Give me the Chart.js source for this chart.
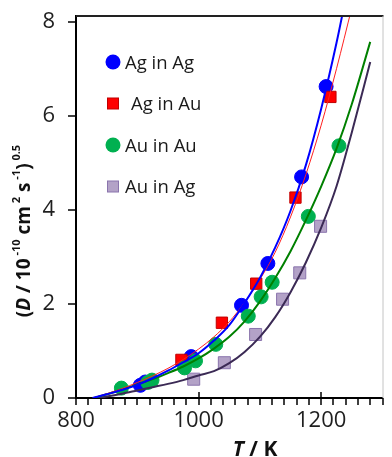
<!DOCTYPE html>
<html>
<head>
<meta charset="utf-8">
<script src="https://cdn.jsdelivr.net/npm/chart.js@4.4.1/dist/chart.umd.min.js"></script>
<style>
  html, body { margin: 0; padding: 0; background: #fff; }
  #wrap { width: 392px; height: 457px; }
</style>
</head>
<body>
<div id="wrap"><canvas id="chart" width="392" height="457"></canvas></div>
<script>
// Noms des séries (ordre de la légende)
const seriesNames = ["Ag in Ag", "Ag in Au", "Au in Au", "Au in Ag"];

// Points mesurés : T en K, (D / 1e-10 cm2 s-1)^0.5
const agAgT = [905, 913, 988, 1070, 1113, 1168, 1208];
const agAgD = [0.27, 0.34, 0.88, 1.97, 2.86, 4.70, 6.62];

const agAuT = [972, 1038, 1094, 1158, 1215];
const agAuD = [0.81, 1.60, 2.43, 4.26, 6.40];

const auAuT = [874, 917, 924, 977, 995, 1028, 1081, 1102, 1120, 1179, 1229];
const auAuD = [0.21, 0.33, 0.38, 0.64, 0.79, 1.14, 1.74, 2.15, 2.46, 3.86, 5.36];

const auAgT = [992, 1042, 1093, 1137, 1165, 1199];
const auAgD = [0.40, 0.75, 1.35, 2.10, 2.66, 3.65];

// Courbes d'ajustement
const fitAgAgT = [827, 850, 875, 900, 925, 950, 975, 1000, 1025, 1050, 1075, 1100, 1125, 1150, 1175, 1200, 1225, 1240];
const fitAgAgD = [0, 0.08, 0.17, 0.28, 0.42, 0.58, 0.76, 0.95, 1.22, 1.55, 2.02, 2.55, 3.2, 3.98, 4.95, 6.15, 7.55, 8.5];

const fitAgAuT = [827, 850, 875, 900, 925, 950, 975, 1000, 1025, 1050, 1075, 1100, 1125, 1150, 1175, 1200, 1225, 1250];
const fitAgAuD = [0, 0.09, 0.2, 0.33, 0.47, 0.63, 0.82, 1.04, 1.3, 1.62, 2.03, 2.52, 3.1, 3.85, 4.75, 5.8, 7.0, 8.3];

const fitAuAuT = [830, 850, 875, 900, 925, 950, 975, 1000, 1025, 1050, 1075, 1100, 1125, 1150, 1175, 1200, 1225, 1250, 1280];
const fitAuAuD = [0, 0.08, 0.18, 0.29, 0.4, 0.53, 0.67, 0.84, 1.05, 1.3, 1.63, 2.05, 2.55, 3.12, 3.78, 4.5, 5.3, 6.25, 7.57];

const fitAuAgT = [835, 850, 875, 900, 925, 950, 975, 1000, 1025, 1050, 1075, 1100, 1125, 1150, 1175, 1200, 1225, 1250, 1280];
const fitAuAgD = [0, 0.03, 0.09, 0.16, 0.23, 0.3, 0.38, 0.48, 0.57, 0.74, 0.98, 1.3, 1.72, 2.25, 2.88, 3.62, 4.5, 5.65, 7.14];

// Axes
const xTicks = [800, 1000, 1200];
const yTicks = [0, 2, 4, 6, 8];
const xMin = 800, xMax = 1300, xMinorStep = 20;
const yMin = 0, yMax = 8.12;

const FONT = "'Open Sans', sans-serif";

function toPoints(tArr, dArr) {
  return tArr.map((t, i) => ({ x: t, y: dArr[i] }));
}

function fitLine(tArr, dArr, color, width) {
  return {
    data: toPoints(tArr, dArr),
    showLine: true,
    borderColor: color,
    borderWidth: width,
    pointRadius: 0,
    cubicInterpolationMode: "monotone",
    order: 0,
  };
}

function markers(label, tArr, dArr, style, radius, fill, border, order) {
  return {
    label: label,
    data: toPoints(tArr, dArr),
    showLine: false,
    pointStyle: style,
    pointRadius: radius,
    pointBackgroundColor: fill,
    pointBorderColor: border,
    pointBorderWidth: 1,
    order: order,
  };
}

// Légende dessinée dans la zone du graphique + cadre + graduations + titres
const decorPlugin = {
  id: "decor",
  afterDraw(chart) {
    const { ctx, chartArea: a, scales: { x, y } } = chart;
    ctx.save();

    // cadre haut et droit
    ctx.strokeStyle = "#222";
    ctx.lineWidth = 2;
    ctx.beginPath();
    ctx.moveTo(a.left, a.top);
    ctx.lineTo(a.right + 1, a.top);
    ctx.stroke();
    ctx.strokeStyle = "#c4c4c4";
    ctx.lineWidth = 1;
    ctx.beginPath();
    ctx.moveTo(a.right + 0.5, a.top);
    ctx.lineTo(a.right + 0.5, a.bottom);
    ctx.stroke();

    // graduations
    ctx.strokeStyle = "#000";
    ctx.lineWidth = 1.5;
    for (let t = xMin; t <= xMax; t += xMinorStep) {
      const px = Math.round(x.getPixelForValue(t));
      const major = xTicks.includes(t);
      ctx.beginPath();
      ctx.moveTo(px, major ? a.bottom - 6 : a.bottom);
      ctx.lineTo(px, a.bottom + 7);
      ctx.stroke();
    }
    yTicks.forEach((v) => {
      const py = Math.round(y.getPixelForValue(v));
      ctx.beginPath();
      ctx.moveTo(a.left - 8, py);
      ctx.lineTo(a.left, py);
      ctx.stroke();
    });

    // légende
    const legendSets = chart.data.datasets.filter((d) => d.label);
    const textShift = [0, 6, 0, 0];
    legendSets.forEach((d, i) => {
      const mx = a.left + 37;
      const my = a.top + 46 + i * 41.5;
      ctx.fillStyle = d.pointBackgroundColor;
      ctx.strokeStyle = d.pointBorderColor;
      ctx.lineWidth = 1;
      if (d.pointStyle === "circle") {
        ctx.beginPath();
        ctx.arc(mx, my, 7.5, 0, Math.PI * 2);
        ctx.fill();
      } else {
        ctx.fillRect(mx - 5.5, my - 5.5, 11, 11);
        ctx.strokeRect(mx - 5.5, my - 5.5, 11, 11);
      }
      ctx.fillStyle = "#1a1a1a";
      ctx.font = "18.5px " + FONT;
      ctx.textBaseline = "alphabetic";
      ctx.textAlign = "left";
      ctx.fillText(d.label, mx + 12 + textShift[i], my + 6.5);
    });

    // titres des axes
    ctx.fillStyle = "#111";
    ctx.textBaseline = "alphabetic";
    ctx.textAlign = "left";
    const bold = "bold 19px " + FONT;
    const sup = "bold 11px " + FONT;
    const yParts = [
      { text: "(", font: bold, dy: 7 },
      { text: "D", font: "italic " + bold, dy: 7 },
      { text: " / 10", font: bold, dy: 7 },
      { text: " -10", font: sup, dy: -3 },
      { text: " cm", font: bold, dy: 7 },
      { text: " 2", font: sup, dy: -3 },
      { text: " s", font: bold, dy: 7 },
      { text: " -1", font: sup, dy: -3 },
      { text: ")", font: bold, dy: 7 },
      { text: " 0.5", font: sup, dy: -3 },
    ];
    ctx.save();
    ctx.translate(23, 231);
    ctx.rotate(-Math.PI / 2);
    drawRich(ctx, yParts, 0, 0);
    ctx.restore();

    const xParts = [
      { text: "T", font: "italic bold 21px " + FONT, dy: 0 },
      { text: " / K", font: "bold 21px " + FONT, dy: 0 },
    ];
    drawRich(ctx, xParts, 255, 456);

    ctx.restore();
  },
};

function drawRich(ctx, parts, cx, cy) {
  let total = 0;
  parts.forEach((p) => {
    ctx.font = p.font;
    p.w = ctx.measureText(p.text).width;
    total += p.w;
  });
  let pos = cx - total / 2;
  parts.forEach((p) => {
    ctx.font = p.font;
    ctx.fillText(p.text, pos, cy + p.dy);
    pos += p.w;
  });
}

document.addEventListener("DOMContentLoaded", () => {
  const ctx = document.getElementById("chart").getContext("2d");

  new Chart(ctx, {
    type: "scatter",
    data: {
      datasets: [
        fitLine(fitAgAgT, fitAgAgD, "#0000ff", 2),
        fitLine(fitAgAuT, fitAgAuD, "#ff2020", 1),
        fitLine(fitAuAuT, fitAuAuD, "#008000", 2),
        fitLine(fitAuAgT, fitAuAgD, "#3b2a55", 2),
        markers(seriesNames[0], agAgT, agAgD, "circle", 7, "#0000ff", "#0000ff", 3),
        markers(seriesNames[1], agAuT, agAuD, "rect", 8, "#ff0000", "#c00000", 2),
        markers(seriesNames[2], auAuT, auAuD, "circle", 7, "#00b050", "#00b050", 1),
        markers(seriesNames[3], auAgT, auAgD, "rect", 8.5, "#b3a2c7", "#8a74ad", 4),
      ],
    },
    options: {
      responsive: false,
      animation: false,
      devicePixelRatio: 1,
      layout: { padding: { left: 0, top: 16, right: 1, bottom: 0 } },
      plugins: {
        legend: { display: false },
        tooltip: { enabled: false },
      },
      scales: {
        x: {
          type: "linear",
          min: xMin,
          max: xMax,
          afterBuildTicks: (s) => { s.ticks = xTicks.map((v) => ({ value: v })); },
          afterFit: (s) => {
            s.height = 59;
            s.paddingLeft = 0;
            s.paddingRight = 0;
          },
          grid: { display: false, drawTicks: false },
          border: { display: true, color: "#000", width: 2 },
          ticks: {
            autoSkip: false,
            maxRotation: 0,
            padding: 10,
            color: "#1f1f1f",
            font: { family: FONT, size: 22 },
            callback: (v) => String(v),
          },
        },
        y: {
          type: "linear",
          min: yMin,
          max: yMax,
          afterBuildTicks: (s) => { s.ticks = yTicks.map((v) => ({ value: v })); },
          afterFit: (s) => {
            s.width = 76;
            s.paddingTop = 0;
            s.paddingBottom = 0;
          },
          grid: { display: false, drawTicks: false },
          border: { display: true, color: "#000", width: 2 },
          ticks: {
            padding: 21,
            color: "#1f1f1f",
            font: { family: FONT, size: 22 },
            callback: (v) => String(v),
          },
        },
      },
    },
    plugins: [decorPlugin],
  });
});
</script>
</body>
</html>
